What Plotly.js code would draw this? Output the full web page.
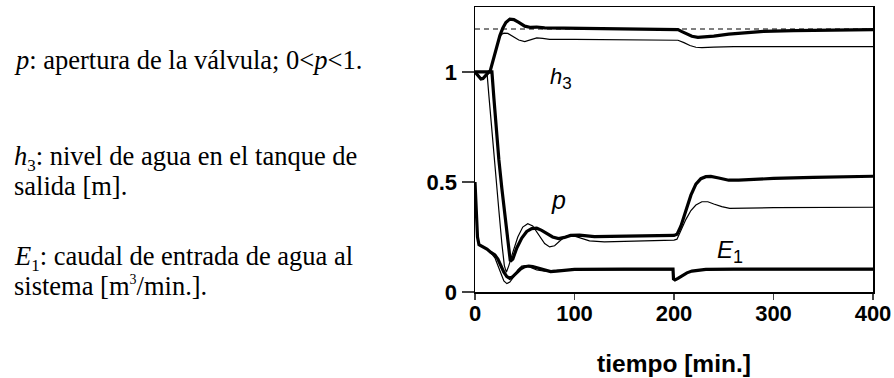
<!DOCTYPE html>
<html>
<head>
<meta charset="utf-8">
<script src="https://cdn.plot.ly/plotly-3.0.1.min.js"></script>
<style>
  html, body { margin: 0; padding: 0; background: #fff; }
  #chart { width: 894px; height: 378px; }
</style>
</head>
<body>
<div id="chart"></div>
<script>
// Time axis ticks [min.]
const timeTicks = [0, 100, 200, 300, 400];
const levelTicks = [0, 0.5, 1];
const levelTickText = ['0', '0.5', '1'];

// Reference level for h3 (dashed)
const tSet = [0, 400];
const h3Set = [1.195, 1.195];

// h3, thick trace
const tH3a = [0, 2, 4, 6, 8, 10, 12, 14, 15, 18, 21, 25, 28, 31, 35, 39, 44, 50, 56, 62, 70, 100, 150, 200, 204, 208, 213, 218, 224, 230, 240, 255, 270, 290, 320, 360, 400];
const h3a  = [1.0, 0.99, 0.975, 0.968, 0.97, 0.98, 0.992, 1.0, 1.0, 1.05, 1.1, 1.165, 1.2, 1.225, 1.24, 1.238, 1.225, 1.208, 1.202, 1.204, 1.2, 1.199, 1.197, 1.195, 1.192, 1.183, 1.172, 1.162, 1.157, 1.158, 1.163, 1.172, 1.178, 1.184, 1.188, 1.19, 1.192];

// h3, thin trace
const tH3b = [0, 15, 18, 21, 24, 26.5, 29, 33, 38, 44, 50, 56, 62, 68, 75, 100, 150, 200, 204, 210, 216, 222, 228, 240, 260, 300, 400];
const h3b  = [1.0, 1.0, 1.05, 1.1, 1.15, 1.17, 1.176, 1.175, 1.16, 1.145, 1.138, 1.145, 1.155, 1.152, 1.148, 1.148, 1.147, 1.147, 1.144, 1.133, 1.12, 1.112, 1.11, 1.113, 1.115, 1.115, 1.115];

// p, thick trace
const tPa = [0, 10, 17, 19, 22, 24, 27, 30, 33, 35.5, 38, 42, 47, 52, 57, 62, 67, 72, 78, 84, 90, 96, 105, 120, 150, 180, 200, 203, 207, 212, 217, 222, 227, 232, 237, 245, 255, 265, 280, 300, 340, 400];
const pa  = [1.0, 1.0, 1.0, 0.88, 0.69, 0.6, 0.47, 0.36, 0.24, 0.14, 0.15, 0.2, 0.245, 0.275, 0.288, 0.29, 0.28, 0.265, 0.25, 0.243, 0.248, 0.257, 0.258, 0.252, 0.253, 0.256, 0.257, 0.262, 0.3, 0.37, 0.44, 0.49, 0.515, 0.524, 0.525, 0.518, 0.508, 0.508, 0.512, 0.516, 0.521, 0.526];

// p, thin trace
const tPb = [0, 10, 12, 14, 16, 18, 21, 24, 27, 29.5, 31.5, 34, 38, 43, 48, 53, 58, 64, 70, 75, 80, 86, 92, 97, 105, 115, 130, 160, 200, 203, 207, 212, 217, 222, 228, 234, 240, 248, 256, 270, 300, 400];
const pb  = [1.0, 1.0, 1.0, 0.89, 0.78, 0.67, 0.52, 0.37, 0.22, 0.12, 0.09, 0.12, 0.18, 0.25, 0.295, 0.31, 0.3, 0.26, 0.22, 0.205, 0.21, 0.235, 0.255, 0.258, 0.245, 0.232, 0.228, 0.232, 0.236, 0.24, 0.28, 0.33, 0.37, 0.395, 0.41, 0.41, 0.4, 0.388, 0.38, 0.38, 0.383, 0.385];

// E1, thick trace
const tEa = [0, 1, 2.5, 4, 8, 12, 16, 20, 23, 26, 29, 32, 35, 38, 42, 46, 50, 54, 58, 64, 70, 76, 82, 90, 100, 150, 199, 199.5, 201, 204, 208, 213, 218, 224, 232, 260, 300, 400];
const ea  = [0.5, 0.42, 0.25, 0.215, 0.205, 0.195, 0.18, 0.168, 0.15, 0.12, 0.09, 0.07, 0.062, 0.07, 0.09, 0.105, 0.115, 0.118, 0.115, 0.108, 0.098, 0.093, 0.095, 0.1, 0.103, 0.104, 0.104, 0.06, 0.055, 0.062, 0.075, 0.087, 0.095, 0.1, 0.103, 0.104, 0.104, 0.104];

// E1, thin trace
const tEb = [0, 1, 2.5, 4, 8, 12, 16, 20, 23, 26, 29, 32, 35, 39, 43, 47, 51, 56, 62, 70, 80, 100, 199, 199.5, 201, 204, 208, 213, 218, 224, 232, 400];
const eb  = [0.5, 0.42, 0.25, 0.215, 0.205, 0.195, 0.178, 0.155, 0.12, 0.08, 0.05, 0.038, 0.045, 0.07, 0.1, 0.118, 0.12, 0.112, 0.1, 0.095, 0.098, 0.1, 0.102, 0.06, 0.055, 0.062, 0.075, 0.087, 0.095, 0.1, 0.102, 0.102];

// Description lines beside the plot
const notes = [
  '<i>p</i>: apertura de la válvula; 0&lt;<i>p</i>&lt;1.',
  '<i>h</i><sub><span style="font-size:17px">3</span></sub>: nivel de agua en el tanque de',
  'salida [m].',
  '<i>E</i><sub><span style="font-size:17px">1</span></sub>: caudal de entrada de agua al',
  'sistema [m<sup><span style="font-size:14px">3</span></sup>/min.].'
];
const noteBaselines = [67, 165, 193, 265, 293];

// Curve labels inside the plot: [text, t, value, size]
const curveLabels = [
  ['<i>h</i><sub><span style="font-size:17px">3</span></sub>', 86, 0.97, 22],
  ['<i>p</i>', 84, 0.42, 25],
  ['<i>E</i><sub><span style="font-size:18px">1</span></sub>', 256, 0.185, 24]
];

const W = 894, H = 378;
const mL = 475, mR = 21, mT = 7, mB = 86;
const plotW = W - mL - mR, plotH = H - mT - mB;

const thick = { color: '#000', width: 3.2 };
const thin = { color: '#000', width: 1.2 };

const traces = [
  { x: tSet, y: h3Set, mode: 'lines', line: { color: '#000', width: 1, dash: '5px,4px' } },
  { x: tH3b, y: h3b, mode: 'lines', line: thin },
  { x: tPb, y: pb, mode: 'lines', line: thin },
  { x: tEb, y: eb, mode: 'lines', line: thin },
  { x: tH3a, y: h3a, mode: 'lines', line: thick },
  { x: tPa, y: pa, mode: 'lines', line: thick },
  { x: tEa, y: ea, mode: 'lines', line: thick }
];

const sans = 'Liberation Sans, Arial, Helvetica, sans-serif';
const serif = 'Liberation Serif, Times New Roman, serif';

const annotations = [];
notes.forEach((txt, i) => {
  const mid = noteBaselines[i] - 7;
  annotations.push({
    text: txt, xref: 'paper', yref: 'paper',
    x: (12 - mL) / plotW, y: (mT + plotH - mid) / plotH,
    xanchor: 'left', yanchor: 'middle', showarrow: false,
    font: { family: serif, size: 26.5, color: '#000' }
  });
});
curveLabels.forEach(([txt, t, v, size]) => {
  annotations.push({
    text: txt, x: t, y: v, xref: 'x', yref: 'y',
    xanchor: 'center', yanchor: 'middle', showarrow: false,
    font: { family: sans, size: size, color: '#000' }
  });
});

const layout = {
  width: W, height: H,
  margin: { l: mL, r: mR, t: mT, b: mB, pad: 0 },
  paper_bgcolor: '#fff', plot_bgcolor: '#fff',
  showlegend: false,
  font: { family: sans, color: '#000' },
  xaxis: {
    range: [0, 400], tickvals: timeTicks, ticks: 'outside', ticklen: 6, tickwidth: 1.5,
    ticklabelstandoff: -5,
    showline: true, mirror: true, linewidth: 1.5, linecolor: '#000',
    showgrid: false, zeroline: false,
    tickfont: { family: sans, size: 22, weight: 'bold', color: '#000' },
    title: { text: 'tiempo [min.]', font: { family: sans, size: 24.5, weight: 'bold', color: '#000' }, standoff: 30 }
  },
  yaxis: {
    range: [0, 1.295], tickvals: levelTicks, ticktext: levelTickText, ticks: 'outside', ticklen: 12, tickwidth: 1.5,
    showline: true, mirror: true, linewidth: 1.5, linecolor: '#000',
    showgrid: false, zeroline: false,
    tickfont: { family: sans, size: 22, weight: 'bold', color: '#000' }
  },
  annotations: annotations
};

Plotly.newPlot('chart', traces, layout, { staticPlot: true, displayModeBar: false });
</script>
</body>
</html>
